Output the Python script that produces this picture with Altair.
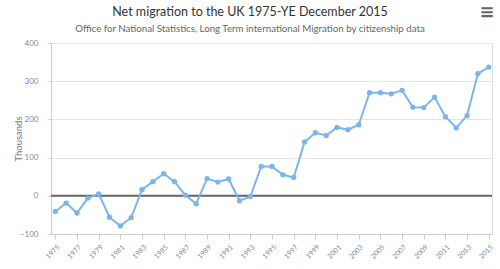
import altair as alt
import pandas as pd

years = list(range(1975, 2016))
net_migration = [-41, -19, -45, -6, 5, -56, -79, -57, 16, 37, 58, 37, 2, -21, 45, 36, 44, -13, -2,
                 77, 77, 55, 48, 141, 165, 158, 179, 173, 186, 270, 270, 267, 276, 232, 231, 258,
                 207, 178, 210, 320, 337]
tick_years = list(range(1975, 2016, 2))
y_ticks = [-100, 0, 100, 200, 300, 400]
title_text = "Net migration to the UK 1975-YE December 2015"
subtitle_text = "Office for National Statistics, Long Term international Migration by citizenship data"

df = pd.DataFrame({"year": years, "value": net_migration, "zero": [0] * len(years)})

FONT = "Lato"
x_axis = alt.Axis(values=tick_years, format="d", labelAngle=-45, labelFontSize=7,
                  labelColor="#888888", labelFont=FONT, tickColor="#cccccc", tickSize=5,
                  domainColor="#cccccc", grid=False, title=None, labelPadding=4,
                  labelOverlap=False)
y_axis = alt.Axis(values=y_ticks, labelFontSize=8, labelColor="#888888", labelFont=FONT,
                  tickColor="#cccccc", tickSize=3, domainColor="#cccccc",
                  gridColor="#e6e6e6", title="Thousands", titleFontSize=9.5,
                  titleColor="#777777", titleFont=FONT, titleFontWeight="normal",
                  titlePadding=-4, labelPadding=10, labelOverlap=False)
x_scale = alt.Scale(domain=[1974.6, 2015.3], nice=False, zero=False)
y_scale = alt.Scale(domain=[-100, 400], nice=False)

base = alt.Chart(df)
zero = base.mark_rule(color="#666666", strokeWidth=2).encode(
    y=alt.Y("mean(zero):Q", scale=y_scale, axis=y_axis),
)
line = base.mark_line(color="#7cb5ec", strokeWidth=2).encode(
    x=alt.X("year:Q", scale=x_scale, axis=x_axis),
    y=alt.Y("value:Q", scale=y_scale, axis=y_axis),
)
pts = base.mark_circle(color="#7cb5ec", size=28, opacity=1).encode(
    x=alt.X("year:Q", scale=x_scale, axis=x_axis),
    y=alt.Y("value:Q", scale=y_scale, axis=y_axis),
)

title_mark = alt.Chart(pd.DataFrame({"t": [title_text]})).mark_text(
    fontSize=12.5, font=FONT, color="#333333", align="center", baseline="alphabetic"
).encode(text="t:N", x=alt.value(199), y=alt.value(-27))
subtitle_mark = alt.Chart(pd.DataFrame({"t": [subtitle_text]})).mark_text(
    fontSize=9.7, font=FONT, color="#666666", align="center", baseline="alphabetic"
).encode(text="t:N", x=alt.value(199), y=alt.value(-11))
menu = alt.Chart(pd.DataFrame({"t": ["≡"]})).mark_text(
    fontSize=18, color="#666666", font="DejaVu Sans", fontWeight="bold", align="center",
    baseline="middle"
).encode(text="t:N", x=alt.value(436), y=alt.value(-30))

chart = alt.layer(zero, line, pts, title_mark, subtitle_mark, menu).properties(
    width=441, height=191,
    padding={"left": 51, "top": 43, "right": 8, "bottom": 35},
    autosize="none",
).configure_view(stroke="#e6e6e6").configure_axis(labelOverlap=False).configure(background="white")

chart.save("out.html", embed_options={"renderer": "svg", "actions": False})
